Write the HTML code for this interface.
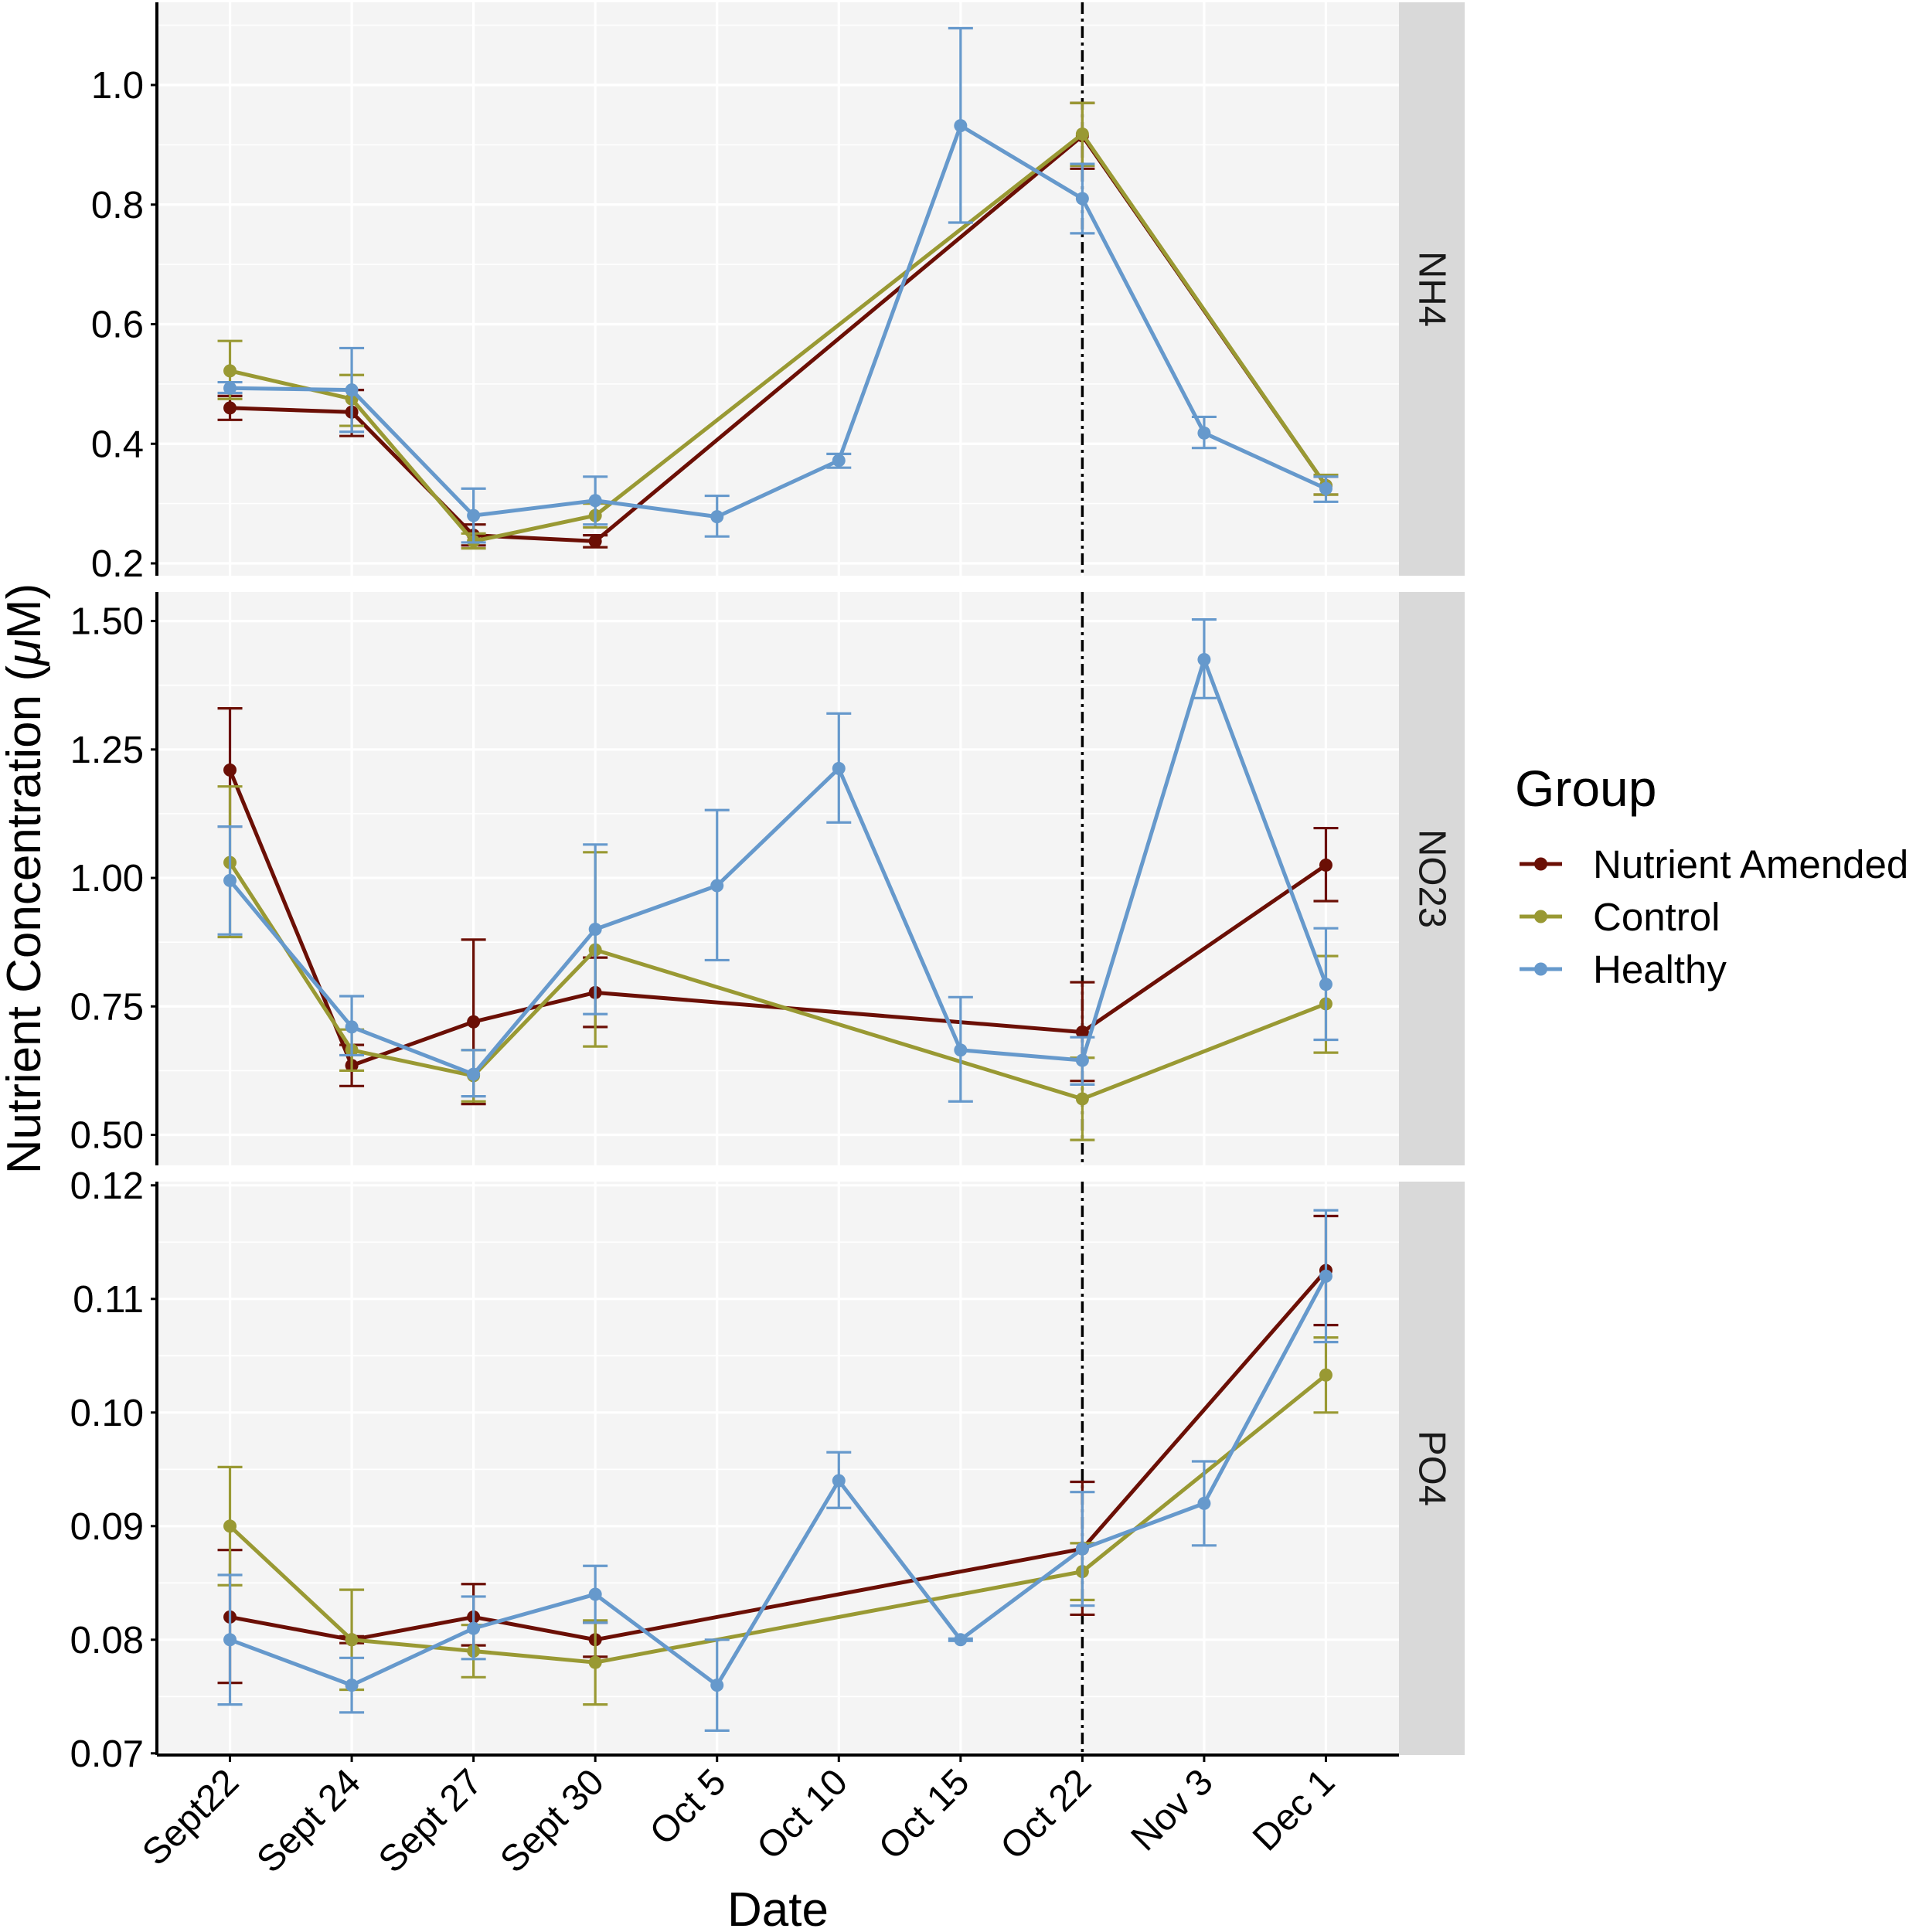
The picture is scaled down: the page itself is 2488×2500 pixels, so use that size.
<!DOCTYPE html>
<html><head><meta charset="utf-8"><style>
html,body{margin:0;padding:0;background:#fff}
svg{display:block;font-family:"Liberation Sans",Arial,sans-serif}
</style></head><body>
<svg id="chart" width="2488" height="2500" viewBox="0 0 2488 2500" xmlns="http://www.w3.org/2000/svg"></svg>
<script>
const categories = ["Sept22","Sept 24","Sept 27","Sept 30","Oct 5","Oct 10","Oct 15","Oct 22","Nov 3","Dec 1"];
const groups = ["Nutrient Amended","Control","Healthy"];
const colors = ["#6b0f05","#999933","#6699cc"];
const panels = ["NH4","NO23","PO4"];
// NH4
const nh4Amended = [0.46,0.453,0.247,0.237,null,null,null,0.915,null,0.33];
const nh4AmendedLo = [0.44,0.413,0.23,0.227,null,null,null,0.86,null,0.315];
const nh4AmendedHi = [0.48,0.49,0.265,0.247,null,null,null,0.97,null,0.345];
const nh4Control = [0.522,0.475,0.237,0.28,null,null,null,0.918,null,0.33];
const nh4ControlLo = [0.475,0.43,0.225,0.26,null,null,null,0.865,null,0.315];
const nh4ControlHi = [0.572,0.515,0.25,0.30,null,null,null,0.97,null,0.348];
const nh4Healthy = [0.493,0.49,0.28,0.305,0.278,0.372,0.932,0.81,0.418,0.325];
const nh4HealthyLo = [0.485,0.42,0.235,0.265,0.245,0.36,0.77,0.752,0.393,0.303];
const nh4HealthyHi = [0.503,0.56,0.325,0.345,0.313,0.383,1.095,0.868,0.445,0.345];
// NO23
const no23Amended = [1.21,0.635,0.72,0.777,null,null,null,0.70,null,1.025];
const no23AmendedLo = [1.10,0.595,0.56,0.71,null,null,null,0.605,null,0.955];
const no23AmendedHi = [1.33,0.675,0.88,0.845,null,null,null,0.797,null,1.097];
const no23Control = [1.03,0.665,0.615,0.86,null,null,null,0.57,null,0.755];
const no23ControlLo = [0.885,0.625,0.565,0.672,null,null,null,0.49,null,0.66];
const no23ControlHi = [1.178,0.705,0.665,1.05,null,null,null,0.65,null,0.848];
const no23Healthy = [0.995,0.71,0.618,0.90,0.985,1.213,0.665,0.645,1.425,0.793];
const no23HealthyLo = [0.89,0.655,0.575,0.735,0.84,1.108,0.565,0.598,1.35,0.685];
const no23HealthyHi = [1.10,0.77,0.665,1.065,1.132,1.32,0.768,0.69,1.503,0.902];
// PO4
const po4Amended = [0.082,0.080,0.082,0.080,null,null,null,0.088,null,0.1125];
const po4AmendedLo = [0.0762,0.0797,0.0795,0.0785,null,null,null,0.0822,null,0.1077];
const po4AmendedHi = [0.0879,0.0803,0.0849,0.0815,null,null,null,0.0939,null,0.1173];
const po4Control = [0.090,0.080,0.079,0.078,null,null,null,0.086,null,0.1033];
const po4ControlLo = [0.0848,0.0756,0.0767,0.0743,null,null,null,0.0835,null,0.100];
const po4ControlHi = [0.0952,0.0844,0.0813,0.0817,null,null,null,0.0885,null,0.1066];
const po4Healthy = [0.080,0.076,0.081,0.084,0.076,0.094,0.080,0.088,0.092,0.112];
const po4HealthyLo = [0.0743,0.0736,0.0783,0.0815,0.072,0.0916,0.0799,0.083,0.0883,0.1062];
const po4HealthyHi = [0.0857,0.0784,0.0838,0.0865,0.080,0.0965,0.0801,0.093,0.0957,0.1178];
const nh4Ticks = [0.2,0.4,0.6,0.8,1.0];
const nh4TickLabels = ["0.2","0.4","0.6","0.8","1.0"];
const no23Ticks = [0.5,0.75,1.0,1.25,1.5];
const no23TickLabels = ["0.50","0.75","1.00","1.25","1.50"];
const po4Ticks = [0.07,0.08,0.09,0.10,0.11,0.12];
const po4TickLabels = ["0.07","0.08","0.09","0.10","0.11","0.12"];
const vlineCategory = "Oct 22";

const svg = document.getElementById('chart');
const NS = 'http://www.w3.org/2000/svg';
function mk(tag, attrs, parent){const e=document.createElementNS(NS,tag);for(const k in attrs)e.setAttribute(k,attrs[k]);(parent||svg).appendChild(e);return e;}

const PL=203, PR=1810, SR=1895;
const step=(PR-PL)/(categories.length-1+1.2);
function xs(i){return PL+step*(0.6+i);}
const panelDefs=[
 {name:"NH4",top:3,bot:745,va:0.2,ya:729,vb:1.0,yb:110,ticks:nh4Ticks,labels:nh4TickLabels,
  series:[[nh4Amended,nh4AmendedLo,nh4AmendedHi],[nh4Control,nh4ControlLo,nh4ControlHi],[nh4Healthy,nh4HealthyLo,nh4HealthyHi]]},
 {name:"NO23",top:766,bot:1508,va:0.5,ya:1468.5,vb:1.5,yb:803.6,ticks:no23Ticks,labels:no23TickLabels,
  series:[[no23Amended,no23AmendedLo,no23AmendedHi],[no23Control,no23ControlLo,no23ControlHi],[no23Healthy,no23HealthyLo,no23HealthyHi]]},
 {name:"PO4",top:1529,bot:2271,va:0.07,ya:2268.8,vb:0.12,yb:1533.8,ticks:po4Ticks,labels:po4TickLabels,
  series:[[po4Amended,po4AmendedLo,po4AmendedHi],[po4Control,po4ControlLo,po4ControlHi],[po4Healthy,po4HealthyLo,po4HealthyHi]]}
];

panelDefs.forEach((p,pi)=>{
  const ys=v=>p.ya+(v-p.va)*(p.yb-p.ya)/(p.vb-p.va);
  const g=mk('g',{});
  
  
  const bg=mk('rect',{x:PL,y:p.top,width:PR-PL,height:p.bot-p.top,fill:'#f4f4f4'},g);
  
  
  const t=p.ticks, d=t[1]-t[0];
  for(let v=t[0]-d/2; v<=t[t.length-1]+d; v+=d){
    const y=ys(v); if(y<p.top||y>p.bot) continue;
    const l=mk('line',{x1:PL,x2:PR,y1:y,y2:y,stroke:'#fff','stroke-width':1.6},g);
    
    
  }
  t.forEach(v=>{const y=ys(v);
    const l=mk('line',{x1:PL,x2:PR,y1:y,y2:y,stroke:'#fff','stroke-width':3.2},g);
    
    });
  categories.forEach((c,i)=>{
    const l=mk('line',{x1:xs(i),x2:xs(i),y1:p.top,y2:p.bot,stroke:'#fff','stroke-width':3.2},g);
    
    });
  const vi=categories.indexOf(vlineCategory);
  const vl=mk('line',{x1:xs(vi),x2:xs(vi),y1:p.top,y2:p.bot,stroke:'#000','stroke-width':3.5,'stroke-dasharray':'15 6 4 6'},g);
  
  
  p.series.forEach((s,si)=>{
    const [vals,lo,hi]=s; const col=colors[si];
    const sg=mk('g',{},g);
    
    
    vals.forEach((v,i)=>{ if(v==null) return; const x=xs(i);
      const e=mk('path',{d:`M${x-16},${ys(hi[i])}H${x+16}M${x},${ys(hi[i])}V${ys(lo[i])}M${x-16},${ys(lo[i])}H${x+16}`,stroke:col,'stroke-width':3.2,fill:'none'},sg);
      
      
    });
    const pts=[]; vals.forEach((v,i)=>{if(v!=null)pts.push(xs(i)+','+ys(v));});
    const pl=mk('polyline',{points:pts.join(' '),stroke:col,'stroke-width':5,fill:'none','stroke-linejoin':'round'},sg);
    
    
    vals.forEach((v,i)=>{ if(v==null) return;
      const c=mk('circle',{cx:xs(i),cy:ys(v),r:8.5,fill:col},sg);
      
      
    });
  });
  const ax=mk('line',{x1:PL,x2:PL,y1:p.top,y2:p.bot,stroke:'#000','stroke-width':4},g);
  
  
  t.forEach((v,k)=>{const y=ys(v);
    const tk=mk('line',{x1:PL-8,x2:PL,y1:y,y2:y,stroke:'#000','stroke-width':3},g);
    
    
    const tx=mk('text',{x:PL-17,y:y+17,'text-anchor':'end','font-size':49,fill:'#000'},g);
    tx.textContent=p.labels[k];
    
    });
  const st=mk('rect',{x:PR,y:p.top,width:SR-PR,height:p.bot-p.top,fill:'#d9d9d9'},g);
  
  
  const cy=(p.top+p.bot)/2, cx=(PR+SR)/2;
  const stx=mk('text',{x:cx,y:cy,'text-anchor':'middle','dominant-baseline':'central','font-size':49,fill:'#1a1a1a',transform:`rotate(90 ${cx} ${cy})`},g);
  stx.textContent=p.name;
  
  
});
const xb=2271;
const xa=mk('line',{x1:PL,x2:PR,y1:xb,y2:xb,stroke:'#000','stroke-width':4});


categories.forEach((c,i)=>{const x=xs(i);
  const tk=mk('line',{x1:x,x2:x,y1:xb,y2:xb+9,stroke:'#000','stroke-width':3});
  
  
  const tx=mk('text',{x:x+14,y:xb+38,'text-anchor':'end','font-size':48,fill:'#000',transform:`rotate(-45 ${x+14} ${xb+38})`});
  tx.textContent=c;
  
  });
const xt=mk('text',{x:(PL+PR)/2,y:2492,'text-anchor':'middle','font-size':62,fill:'#000'});
xt.textContent='Date';


const yt=mk('text',{x:0,y:0,'text-anchor':'middle','font-size':62,fill:'#000',transform:'translate(52 1137) rotate(-90)'});
yt.innerHTML='Nutrient Concentration (<tspan font-style="italic">μ</tspan>M)';


const lg=mk('g',{});


const lt=mk('text',{x:1960,y:1043,'font-size':66,fill:'#000'},lg);
lt.textContent='Group';


groups.forEach((gname,i)=>{const y=1118+i*68;
  const e=mk('g',{},lg);
  
  
  mk('line',{x1:1966,x2:2021,y1:y,y2:y,stroke:colors[i],'stroke-width':5},e);
  mk('circle',{cx:1993.5,cy:y,r:8.5,fill:colors[i]},e);
  const tx=mk('text',{x:2061,y:y+18,'font-size':51,fill:'#000'},e);
  tx.textContent=gname;
  
  
});
</script>
</body></html>
